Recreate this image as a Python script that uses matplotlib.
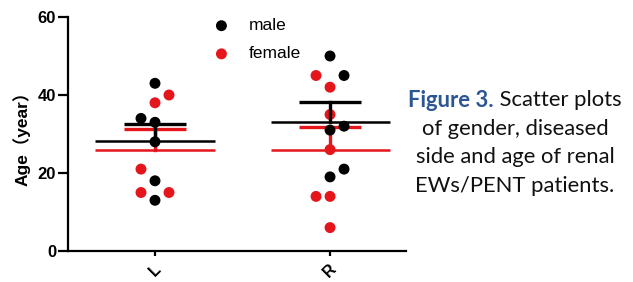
import numpy as np
import matplotlib
matplotlib.use("Agg")
import matplotlib.pyplot as plt

# ages, per diseased side and gender
sides = ["L", "R"]
male_ages = [[43, 34, 33, 28, 18, 13], [50, 45, 32, 31, 21, 19]]
female_ages = [[40, 38, 21, 15, 15], [45, 42, 35, 26, 14, 14, 6]]
# horizontal swarm slot of each point (-1 left, 0 centre, 1 right)
male_slots = [[0, -1, 0, 0, 0, 0], [0, 1, 1, 0, 1, 0]]
female_slots = [[1, 0, -1, -1, 1], [-1, 0, 0, 0, -1, 0, 0]]
y_ticks = [0, 20, 40, 60]

RED = "#e4161b"
BLACK = "#000000"
SLOT_W = 0.08
MEAN_HW = 0.34
CAP_HW = 0.178

plt.rcParams["font.family"] = ["Liberation Sans", "Noto Sans CJK SC"]


def draw_group(ax, ages, slots, color, zorder):
    for i, (vals, sl) in enumerate(zip(ages, slots)):
        vals = np.asarray(vals, float)
        m = vals.mean()
        sem = vals.std(ddof=1) / np.sqrt(len(vals))
        ax.plot([i - MEAN_HW, i + MEAN_HW], [m, m], color=color, lw=1.8,
                solid_capstyle="butt", zorder=zorder)
        ax.plot([i - CAP_HW, i + CAP_HW], [m + sem, m + sem], color=color,
                lw=2.4, solid_capstyle="butt", zorder=zorder)
        ax.plot([i, i], [m, m + sem], color=color, lw=2.4, zorder=zorder)
        x = i + np.asarray(sl) * SLOT_W
        ax.scatter(x, vals, s=62, color=color, edgecolors="none",
                   zorder=zorder + 0.5)


fig = plt.figure(figsize=(6.33, 2.82), dpi=100)
ax = fig.add_axes([68 / 633, 31 / 282, 338 / 633, 234 / 282])

draw_group(ax, female_ages, female_slots, RED, 2)
draw_group(ax, male_ages, male_slots, BLACK, 3)

ax.set_xlim(-0.497, 1.434)
ax.set_ylim(0, 60)
ax.set_yticks(y_ticks, labels=[str(v) for v in y_ticks],
              fontweight="bold", fontsize=12)
ax.set_xticks([0, 1], labels=sides, rotation=45, ha="center", va="top",
              fontweight="bold", fontsize=11.5)
for s in ["top", "right"]:
    ax.spines[s].set_visible(False)
for s in ["left", "bottom"]:
    ax.spines[s].set_linewidth(1.6)
ax.tick_params(axis="y", length=7, width=1.6, pad=1.5)
ax.tick_params(axis="x", length=3.5, width=1.6, pad=4)
ax.set_ylabel("Age（year）", fontweight="bold", fontsize=12.5, labelpad=5)

# legend
ax.scatter([], [], s=62, color=BLACK, edgecolors="none", label="male")
ax.scatter([], [], s=62, color=RED, edgecolors="none", label="female")
leg = ax.legend(loc="upper left", bbox_to_anchor=(0.382, 1.025), frameon=False,
                prop={"size": 12.5}, handletextpad=0.55, labelspacing=0.75,
                borderaxespad=0)

# caption on the right
cap_lines = [("Figure 3.", " Scatter plots"), ("", "of gender, diseased"),
             ("", "side and age of renal"), ("", "EWs/PENT patients.")]
cx = 515 / 633
y0 = 1 - 100 / 282
dy = 28.5 / 282
fig.canvas.draw()
r = fig.canvas.get_renderer()
for k, (bold, rest) in enumerate(cap_lines):
    y = y0 - k * dy
    t1 = fig.text(0, y, bold, color="#2b5593", fontweight="bold",
                  family="Lato", fontsize=15.8, va="center", ha="left")
    t2 = fig.text(0, y, rest, color="#111111", family="Lato",
                  fontsize=15.8, va="center", ha="left")
    w1 = t1.get_window_extent(r).width / fig.bbox.width if bold else 0
    w2 = t2.get_window_extent(r).width / fig.bbox.width
    left = cx - (w1 + w2) / 2
    t1.set_x(left)
    t2.set_x(left + w1)

fig.savefig("out.png", dpi=100)
